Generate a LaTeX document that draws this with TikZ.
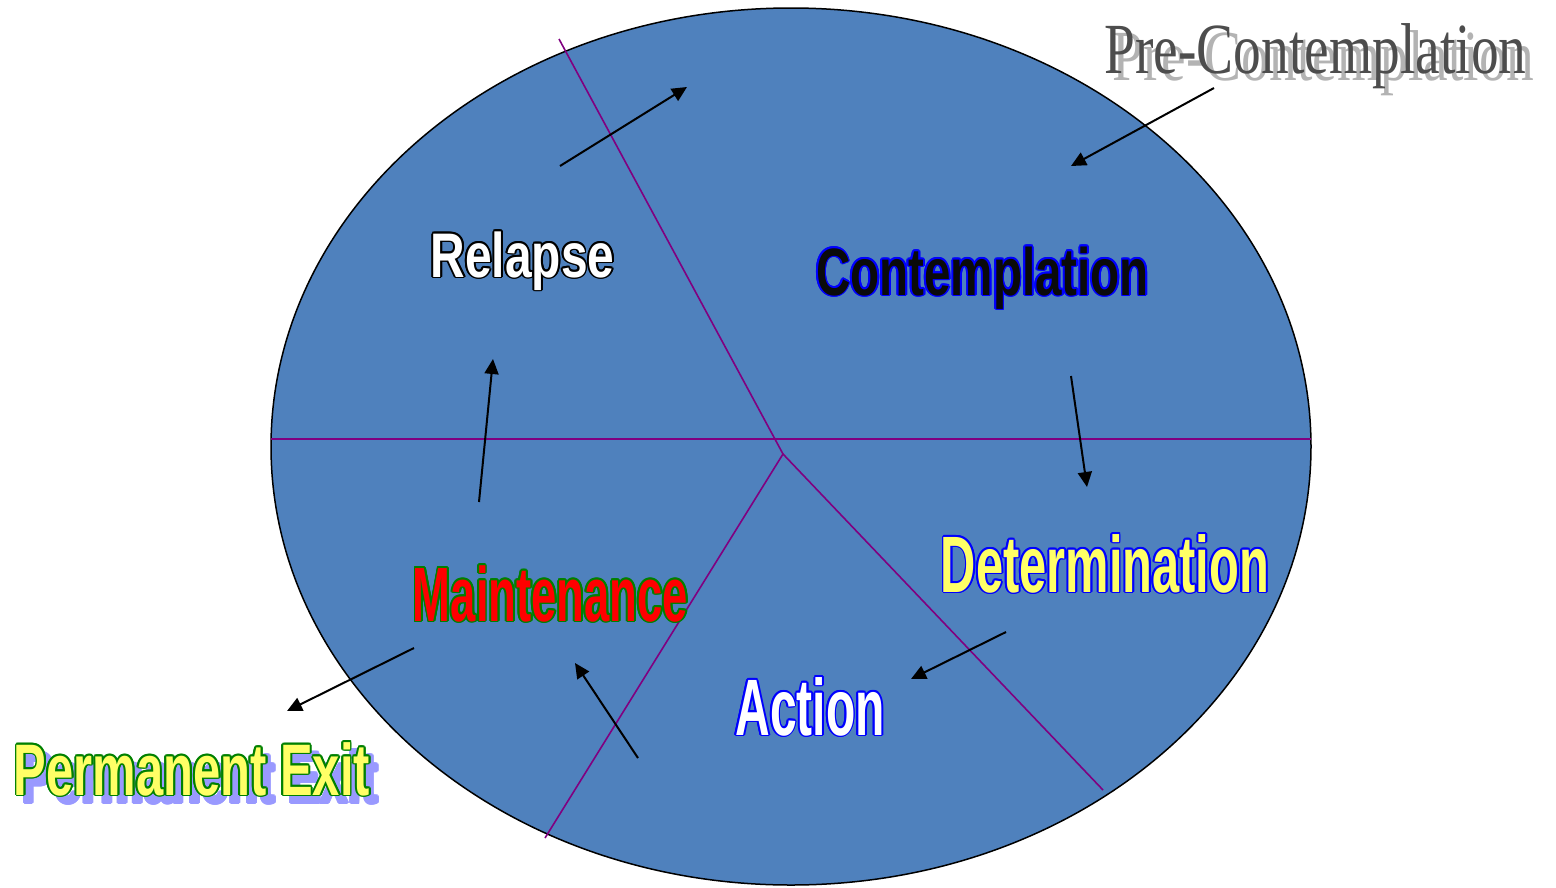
\documentclass[tikz,border=0pt]{standalone}
\usepackage{fontspec}
\newfontfamily\lsans{Liberation Sans}
\newfontfamily\lserif{Liberation Serif}
\usetikzlibrary{arrows.meta,calc,shapes.geometric}
\definecolor{ellfill}{HTML}{4F81BD}
\definecolor{divline}{HTML}{800080}
\definecolor{lyellow}{HTML}{FFFF66}
\definecolor{dgreen}{HTML}{008000}
\definecolor{lav}{HTML}{9999FF}
\definecolor{pgray}{HTML}{4D4D4D}
\definecolor{pshadow}{HTML}{B3B3B3}
\definecolor{nearblack}{HTML}{0A0A0A}
\tikzset{
  lbl/.style={inner sep=0pt, anchor=base, font=\lsans\bfseries},
  slbl/.style={inner sep=0pt, anchor=base, font=\lserif},
  arr/.style={draw=black, line width=2pt, -{Triangle[length=15pt,width=14pt]}},
  divider/.style={draw=divline, line width=1.6pt},
}
\newcommand{\olabel}[8]{%
  \foreach \a in {0,30,...,330}
    \node[lbl, text=#6] at ($(#2,#3)+(\a:1.9)$) {\fontsize{#4}{#4}\selectfont\scalebox{#5}[1]{#8}};
  \node[lbl, text=#7] (#1) at (#2,#3) {\fontsize{#4}{#4}\selectfont\scalebox{#5}[1]{#8}};
}
\begin{document}
\begin{tikzpicture}[x=1pt,y=-1pt]
\useasboundingbox (0,0) rectangle (1556,887);
% ellipse
\node[draw=black, line width=1.5pt, fill=ellfill, ellipse, minimum width=1040pt, minimum height=877pt, inner sep=0pt] (circ) at (791,446.5) {};
% divider coordinates
\coordinate (hl) at (271,439);
\coordinate (hr) at (1311,439);
\coordinate (dtop) at (559,39);
\coordinate (hub) at (783,454);
\coordinate (dbl) at (545,838);
\coordinate (dbr) at (1103,790);
\draw[divider] (hl) -- (hr);
\draw[divider] (dtop) -- (hub);
\draw[divider] (dbl) -- (hub) -- (dbr);
% arrows
\coordinate (a1s) at (560,166); \coordinate (a1e) at (687,87);
\coordinate (a2s) at (1214,88); \coordinate (a2e) at (1071,166);
\coordinate (a3s) at (1071,376); \coordinate (a3e) at (1087,487);
\coordinate (a4s) at (1006,632); \coordinate (a4e) at (911,679);
\coordinate (a5s) at (638,758); \coordinate (a5e) at (575,663);
\coordinate (a6s) at (479,502); \coordinate (a6e) at (493,359);
\coordinate (a7s) at (414,648); \coordinate (a7e) at (287,711);
\draw[arr] (a1s) -- (a1e);
\draw[arr] (a2s) -- (a2e);
\draw[arr] (a3s) -- (a3e);
\draw[arr] (a4s) -- (a4e);
\draw[arr] (a5s) -- (a5e);
\draw[arr] (a6s) -- (a6e);
\draw[arr] (a7s) -- (a7e);
% labels
\olabel{relapse}{522.5}{277}{63}{0.76}{black}{white}{Relapse}
\olabel{contemplation}{982.5}{295}{67}{0.71}{blue}{nearblack}{Contemplation}
\olabel{determination}{1105}{592}{80}{0.61}{blue}{lyellow}{Determination}
\olabel{maintenance}{550.5}{621}{77}{0.59}{dgreen}{red}{Maintenance}
\olabel{action}{810}{735}{80}{0.60}{blue}{white}{Action}
\olabel{pexitshadow}{200}{803}{73}{0.67}{lav}{lav}{Permanent Exit}
\olabel{pexit}{192}{795}{73}{0.67}{dgreen}{lyellow}{Permanent Exit}
\node[slbl, text=pshadow] (precontshadow) at (1323.5,80) {\fontsize{72}{72}\selectfont\scalebox{0.77}[1]{Pre-Contemplation}};
\node[slbl, text=pgray] (precont) at (1315.5,73) {\fontsize{72}{72}\selectfont\scalebox{0.77}[1]{Pre-Contemplation}};
\end{tikzpicture}
\end{document}
